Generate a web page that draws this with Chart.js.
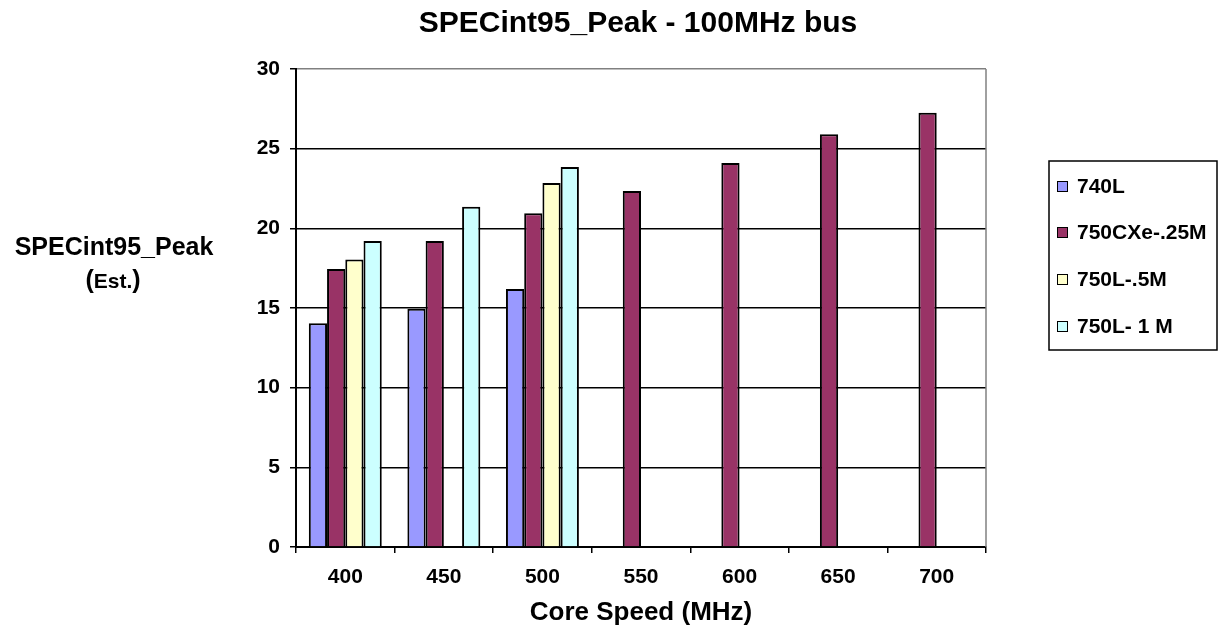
<!DOCTYPE html>
<html>
<head>
<meta charset="utf-8">
<title>SPECint95_Peak - 100MHz bus</title>
<script src="https://cdn.jsdelivr.net/npm/chart.js@4.4.1/dist/chart.umd.min.js"></script>
<style>
  html, body { margin: 0; padding: 0; background: #fff; }
  #wrap { width: 1225px; height: 632px; position: relative; }
</style>
</head>
<body>
<div id="wrap"><canvas id="myChart"></canvas></div>
<script>
// chart values
const coreSpeeds = ['400', '450', '500', '550', '600', '650', '700'];
const seriesNames = ['740L', '750CXe-.25M', '750L-.5M', '750L- 1 M'];
const seriesColours = ['#9999FF', '#993366', '#FFFFCC', '#CCFFFF'];
const values740L = [14.05, 14.95, 16.2, null, null, null, null];
const values750CXe = [17.45, 19.2, 20.95, 22.35, 24.1, 25.9, 27.25];
const values750L5M = [18.05, null, 22.85, null, null, null, null];
const values750L1M = [19.2, 21.35, 23.85, null, null, null, null];
const yTicks = [0, 5, 10, 15, 20, 25, 30];

const chartTitle = 'SPECint95_Peak - 100MHz bus';
const xTitle = 'Core Speed (MHz)';
const fontName = '"Liberation Sans", Arial, sans-serif';

const allValues = [values740L, values750CXe, values750L5M, values750L1M];

// builds the datasets from the named arrays
function buildDatasets(){
  return seriesNames.map((name, i) => ({
    label: name,
    data: allValues[i],
    backgroundColor: seriesColours[i],
    borderColor: '#000',
    borderWidth: 2,
    categoryPercentage: 0.74,
    barPercentage: 1
  }));
}

// draws title, y axis title, right border and the boxed legend
const extrasPlugin = {
  id: 'extras',
  afterDraw(chart){
    const ctx = chart.ctx;
    const area = chart.chartArea;
    ctx.save();

    // grey right border of plot area
    ctx.strokeStyle = '#808080';
    ctx.lineWidth = 1.5;
    ctx.beginPath();
    ctx.moveTo(area.right, area.top);
    ctx.lineTo(area.right, area.bottom);
    ctx.stroke();

    // main title
    ctx.fillStyle = '#000';
    ctx.textAlign = 'center';
    ctx.textBaseline = 'alphabetic';
    ctx.font = 'bold 30px ' + fontName;
    ctx.fillText(chartTitle, (area.left + area.right) / 2 - 3, 32);

    // y axis title, two lines
    ctx.font = 'bold 25px ' + fontName;
    ctx.fillText('SPECint95_Peak', 114, 255);
    const parenFont = 'bold 25px ' + fontName;
    const estFont = 'bold 21px ' + fontName;
    ctx.font = parenFont;
    const pw = ctx.measureText('(').width;
    const cw = ctx.measureText(')').width;
    ctx.font = estFont;
    const ew = ctx.measureText('Est.').width;
    let x = 113 - (pw + ew + cw) / 2;
    ctx.textAlign = 'left';
    ctx.font = parenFont;
    ctx.fillText('(', x, 288);
    x += pw;
    ctx.font = estFont;
    ctx.fillText('Est.', x, 288);
    x += ew;
    ctx.font = parenFont;
    ctx.fillText(')', x, 288);

    // legend box
    ctx.strokeStyle = '#000';
    ctx.lineWidth = 1.5;
    ctx.strokeRect(1049, 161, 168, 189);
    ctx.font = 'bold 21px ' + fontName;
    ctx.textBaseline = 'middle';
    const itemY = [186, 232, 279, 326];
    chart.data.datasets.forEach((ds, i) => {
      ctx.fillStyle = ds.backgroundColor;
      ctx.fillRect(1057, itemY[i] - 5, 10, 10);
      ctx.lineWidth = 1;
      ctx.strokeStyle = '#000';
      ctx.strokeRect(1057.5, itemY[i] - 4.5, 10, 10);
      ctx.fillStyle = '#000';
      ctx.fillText(ds.label, 1077, itemY[i] + 1);
    });

    ctx.restore();
  }
};

function createChart(){
  const ctx = document.getElementById('myChart');

  const config = {
    type: 'bar',
    data: {
      labels: coreSpeeds,
      datasets: buildDatasets()
    },
    options: {
      responsive: true,
      maintainAspectRatio: false,
      animation: false,
      layout: {
        padding: { top: 69, right: 239, bottom: 0, left: 0 }
      },
      plugins: {
        legend: { display: false },
        title: { display: false },
        tooltip: { enabled: false }
      },
      scales: {
        x: {
          afterFit(scale){ scale.height = 85; },
          grid: {
            drawOnChartArea: false,
            drawTicks: true,
            tickLength: 6,
            color: '#000',
            lineWidth: 1.5
          },
          border: { color: '#000', width: 2 },
          ticks: {
            color: '#000',
            padding: 12,
            font: { family: fontName, size: 21, weight: 'bold' }
          },
          title: {
            display: true,
            text: xTitle,
            color: '#000',
            padding: { top: 0, bottom: 4 },
            font: { family: fontName, size: 26, weight: 'bold' }
          }
        },
        y: {
          min: 0,
          max: 30,
          afterFit(scale){ scale.width = 296; },
          afterBuildTicks(scale){ scale.ticks = yTicks.map(v => ({ value: v })); },
          grid: {
            color: c => (c.tick && c.tick.value === 30) ? '#808080' : '#000',
            tickColor: '#000',
            lineWidth: 1.5,
            tickLength: 6
          },
          border: { color: '#000', width: 2 },
          ticks: {
            color: '#000',
            padding: 10,
            font: { family: fontName, size: 21, weight: 'bold' }
          }
        }
      }
    },
    plugins: [extrasPlugin]
  };

  new Chart(ctx, config);
}

createChart();
</script>
</body>
</html>
